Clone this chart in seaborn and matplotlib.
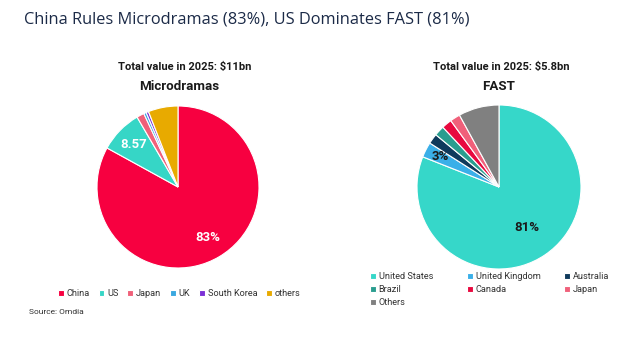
import matplotlib
matplotlib.use("Agg")
import matplotlib.pyplot as plt
import seaborn as sns
import numpy as np

sns.set_theme(style="white")
plt.rcParams['font.family'] = ['Roboto', 'DejaVu Sans']

# ---- data ----
md_labels = ["China", "US", "Japan", "UK", "South Korea", "others"]
md_values = [83.0, 8.57, 1.5, 0.5, 0.5, 5.93]
md_colors = ["#F70040", "#36D6C6", "#F06079", "#3AA8E0", "#7B30D6", "#E8AA00"]
md_text = {"China": "83%", "US": "8.57"}

fast_labels = ["United States", "United Kingdom", "Australia", "Brazil", "Canada", "Japan", "Others"]
fast_values = [81.0, 3.0, 2.0, 2.0, 2.0, 2.0, 8.0]
fast_colors = ["#36D7C9", "#3AAFE8", "#0F3A5C", "#2A9D8F", "#E8093F", "#F0607A", "#808080"]
fast_text = {"United States": "81%", "United Kingdom": "3%"}

W, H = 643, 340
fig = plt.figure(figsize=(W / 100, H / 100), dpi=100)
fig.patch.set_facecolor("white")


def px_axes(cx, cy, r):
    return fig.add_axes([(cx - r) / W, (H - cy - r) / H, 2 * r / W, 2 * r / H])


def draw_pie(ax, values, colors, labels, texts, dists, tcolors):
    wedges, _ = ax.pie(values, colors=colors, startangle=90, counterclock=False,
                       wedgeprops=dict(edgecolor="white", linewidth=0.8))
    ax.set_xlim(-1, 1)
    ax.set_ylim(-1, 1)
    ax.set_aspect("equal")
    for w, lab in zip(wedges, labels):
        if lab in texts:
            th = np.deg2rad((w.theta1 + w.theta2) / 2)
            d = dists[lab]
            ax.text(d * np.cos(th), d * np.sin(th), texts[lab], ha="center", va="center",
                    fontsize=9.5, fontweight="bold", color=tcolors[lab], clip_on=False)
    return wedges


ax1 = px_axes(178, 187, 81)
w1 = draw_pie(ax1, md_values, md_colors, md_labels, md_text,
              {"China": 0.73, "US": 0.76}, {"China": "white", "US": "white"})
ax2 = px_axes(499, 187, 82)
w2 = draw_pie(ax2, fast_values, fast_colors, fast_labels, fast_text,
              {"United States": 0.6, "United Kingdom": 0.81},
              {"United States": "#1a1a1a", "United Kingdom": "#1a1a1a"})

# titles
fig.text(24 / W, 1 - 20 / H, "China Rules Microdramas (83%), US Dominates FAST (81%)",
         ha="left", va="center", fontsize=11.8, color="#1B2A47", family=["Open Sans", "DejaVu Sans"])
fig.text(185 / W, 1 - 67 / H, "Total value in 2025: $11bn", ha="center", va="center",
         fontsize=8, fontweight="bold", color="#1a1a1a")
fig.text(179 / W, 1 - 87 / H, "Microdramas", ha="center", va="center",
         fontsize=9.6, fontweight="bold", color="#1a1a1a")
fig.text(501 / W, 1 - 67 / H, "Total value in 2025: $5.8bn", ha="center", va="center",
         fontsize=8, fontweight="bold", color="#1a1a1a")
fig.text(499 / W, 1 - 87 / H, "FAST", ha="center", va="center",
         fontsize=9.6, fontweight="bold", color="#1a1a1a")
fig.text(29 / W, 1 - 312 / H, "Source: Omdia", ha="left", va="center",
         fontsize=6, color="#333333")

# legends
leg_kw = dict(frameon=False, handlelength=0.6, handleheight=0.6, handletextpad=0.35,
              fontsize=6.6, borderpad=0, borderaxespad=0, labelcolor="#333333")
fig.legend(w1, md_labels, ncol=6, loc="center left",
           bbox_to_anchor=(58 / W, 1 - 294 / H), columnspacing=0.95, **leg_kw)

cols = [[0, 3, 6], [1, 4], [2, 5]]
col_x = [370, 467, 564]
for idx, x in zip(cols, col_x):
    fig.legend([w2[i] for i in idx], [fast_labels[i] for i in idx], ncol=1, loc="upper left",
               bbox_to_anchor=(x / W, 1 - 272 / H), labelspacing=0.45, **leg_kw)

fig.savefig("out.png", dpi=100, facecolor="white")
